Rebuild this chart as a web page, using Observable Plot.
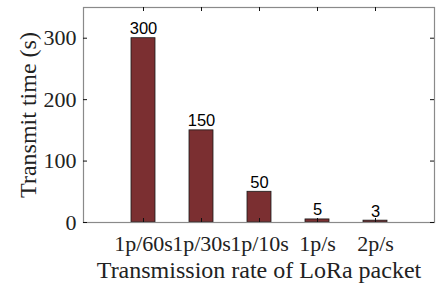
<!DOCTYPE html>
<html>
<head>
<meta charset="utf-8">
<script src="https://cdn.jsdelivr.net/npm/d3@7"></script>
<script src="https://cdn.jsdelivr.net/npm/@observablehq/plot@0.6"></script>
<style>
  html, body { margin: 0; padding: 0; background: #fff; }
</style>
</head>
<body>
<div id="chart"></div>
<script>
const categories = ["1p/60s", "1p/30s", "1p/10s", "1p/s", "2p/s"];
const values = [300, 150, 50, 5, 3];
const yTicks = [0, 100, 200, 300];
const xTitle = "Transmission rate of LoRa packet";
const yTitle = "Transmit time (s)";

const data = categories.map((c, i) => ({rate: c, time: values[i]}));

const W = 445, H = 286;
const mL = 83, mR = 11, mT = 7, mB = 64;
const pw = W - mL - mR, ph = H - mT - mB;
const tk = 4;
const serif = "'Liberation Serif', 'Times New Roman', serif";

const chart = Plot.plot({
  width: W,
  height: H,
  marginLeft: mL,
  marginRight: mR,
  marginTop: mT,
  marginBottom: mB,
  style: {fontFamily: serif, background: "#fff"},
  x: {type: "band", domain: categories, paddingInner: 0.589, paddingOuter: 0.795, label: null, axis: null},
  y: {domain: [0, 350], label: null, axis: null},
  marks: [
    Plot.barY(data, {x: "rate", y: "time", fill: "#7b2f31", stroke: "#1a1a1a", strokeWidth: 0.8}),
    Plot.frame({stroke: "#8a8a8a", strokeWidth: 1.2}),
    // inward ticks
    Plot.tickY(yTicks, {y: d => d, stroke: "#111", insetRight: pw - tk}),
    Plot.tickY(yTicks, {y: d => d, stroke: "#111", insetLeft: pw - tk}),
    Plot.tickX(categories, {x: d => d, stroke: "#111", insetTop: ph - tk}),
    Plot.tickX(categories, {x: d => d, stroke: "#111", insetBottom: ph - tk}),
    // tick labels
    Plot.text(yTicks, {y: d => d, text: d => String(d), frameAnchor: "left", textAnchor: "end", lineAnchor: "middle", dx: -7,
      fontFamily: serif, fontSize: 22, fill: "#222"}),
    Plot.text(categories, {x: d => d, text: d => d, frameAnchor: "bottom", textAnchor: "middle", lineAnchor: "top", dy: 13,
      fontFamily: serif, fontSize: 22, fill: "#222"}),
    // value labels
    Plot.text(data, {x: "rate", y: "time", text: d => String(d.time), lineAnchor: "bottom", dy: -4,
      fontFamily: "'Liberation Sans', Arial, sans-serif", fontSize: 16.5, fill: "#000"}),
    // axis titles
    Plot.text([xTitle], {frameAnchor: "bottom", text: d => d, textAnchor: "middle", lineAnchor: "middle", dy: 48.3,
      fontFamily: serif, fontSize: 24, fill: "#222"}),
    Plot.text([yTitle], {frameAnchor: "left", text: d => d, rotate: -90, textAnchor: "middle", lineAnchor: "middle", dx: -54.7,
      fontFamily: serif, fontSize: 24, fill: "#222"})
  ]
});
document.getElementById("chart").appendChild(chart);
</script>
</body>
</html>
